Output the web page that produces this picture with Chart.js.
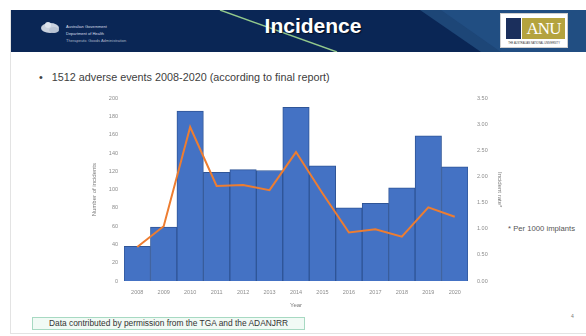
<!DOCTYPE html>
<html>
<head>
<meta charset="utf-8">
<script src="https://cdn.jsdelivr.net/npm/chart.js@4/dist/chart.umd.min.js"></script>
<style>
  html, body { margin: 0; padding: 0; background: #ffffff; }
  body { width: 586px; height: 336px; position: relative; overflow: hidden;
         font-family: "Liberation Sans", Arial, sans-serif; }
  .frame { position: absolute; left: 10px; top: 10px; width: 580px; height: 323px;
           border-left: 1px solid #e3e3e3; border-bottom: 1px solid #e3e3e3; }
  .header { position: absolute; left: 11px; top: 10px; width: 575px; height: 42px; }
  .title { position: absolute; left: 180px; top: 13px; width: 266px; text-align: center;
           color: #ffffff; font-weight: bold; font-size: 21px; line-height: 26px;
           text-shadow: 1px 1px 1px rgba(0,0,0,0.6); }
  .gov { position: absolute; left: 66px; color: #d9dfe9; font-size: 4px; line-height: 5px; white-space: nowrap; }
  .anu { position: absolute; left: 500px; top: 13px; width: 68px; height: 35px; background: #ffffff;
         box-sizing: border-box; border: 1px solid #cfcfcf; }
  .anu .gold { position: absolute; left: 21px; top: 4px; width: 43px; height: 21px; background: #b4a33e;
               color: #ffffff; font-family: "Liberation Serif", serif; font-size: 17px; line-height: 22px;
               text-align: center; letter-spacing: -1px; }
  .anu .crest { position: absolute; left: 5px; top: 4px; width: 15px; height: 21px; background: #1b2f5c; }
  .anu .tag { position: absolute; left: 3px; top: 28px; width: 60px; text-align: center; font-size: 2.6px;
              color: #333; white-space: nowrap; }
  .bullet { position: absolute; left: 39px; top: 71px; font-size: 10.8px; color: #404040; white-space: nowrap; }
  .note { position: absolute; left: 508px; top: 224px; font-size: 7.7px; color: #555; white-space: nowrap; }
  .source { position: absolute; left: 32px; top: 317px; width: 273px; height: 13px; box-sizing: border-box;
            border: 1px solid #a7d9c2; background: #f1faf5; font-size: 8.4px; line-height: 11px;
            text-align: center; color: #333; white-space: nowrap; }
  .page { position: absolute; left: 571px; top: 313px; font-size: 5px; color: #777; }
  .plot { position: absolute; left: 84px; top: 86px; width: 422px; height: 234px; }
</style>
</head>
<body>
<div class="frame"></div>

<svg class="header" width="575" height="42" viewBox="0 0 575 42">
  <rect x="0" y="0" width="575" height="42" fill="#0a2655"/>
  <polygon points="409,0 575,0 575,42 470,42" fill="#1d4677"/>
  <polygon points="430,0 575,0 575,42 490,42" fill="#24538a" opacity="0.6"/>
  <line x1="209" y1="0" x2="326" y2="42" stroke="#93c98c" stroke-width="1.4"/>
  <!-- crest -->
  <ellipse cx="39" cy="18" rx="9" ry="5" fill="#c9d1de"/>
  <ellipse cx="37" cy="15" rx="3" ry="3" fill="#dfe5ee"/>
  <ellipse cx="43" cy="20" rx="5" ry="3" fill="#b9c3d3"/>
</svg>
<div class="gov" style="top:24px;">Australian Government</div>
<div class="gov" style="top:31px;">Department of Health</div>
<div class="gov" style="top:38px;color:#aab5c8;">Therapeutic Goods Administration</div>
<div class="title">Incidence</div>
<div class="anu">
  <div class="crest"></div>
  <div class="gold">ANU</div>
  <div class="tag">THE AUSTRALIAN NATIONAL UNIVERSITY</div>
</div>

<div class="bullet">•&nbsp;&nbsp;&nbsp;1512 adverse events 2008-2020 (according to final report)</div>

<div class="plot"><canvas id="chart" width="422" height="234"></canvas></div>

<div class="note">* Per 1000 implants</div>
<div class="source">Data contributed by permission from the TGA and the ADANJRR</div>
<div class="page">4</div>

<script>
// Years of reporting
const years = ['2008', '2009', '2010', '2011', '2012', '2013', '2014',
               '2015', '2016', '2017', '2018', '2019', '2020'];
// Adverse events reported per year (left axis)
const incidents = [38, 59, 186, 119, 122, 121, 190, 126, 80, 85, 102, 159, 125];
// Incident rate per 1000 implants (right axis)
const incidentRate = [0.65, 1.05, 2.95, 1.82, 1.84, 1.74, 2.47, 1.68, 0.93, 0.99, 0.85, 1.41, 1.23];
// Axis titles
const countAxisTitle = 'Number of incidents';
const rateAxisTitle = 'Incident rate*';
const yearAxisTitle = 'Year';

const tickFont = { family: 'Liberation Sans', size: 5.5 };
const titleFont = { family: 'Liberation Sans', size: 6 };
const tickColor = '#8c8c8c';

new Chart(document.getElementById('chart'), {
  data: {
    labels: years,
    datasets: [
      {
        type: 'line',
        data: incidentRate,
        yAxisID: 'y1',
        borderColor: '#ed7d31',
        borderWidth: 2,
        pointRadius: 0,
        tension: 0,
        order: 0
      },
      {
        type: 'bar',
        data: incidents,
        yAxisID: 'y',
        backgroundColor: '#4472c4',
        borderColor: '#2f5597',
        borderWidth: 1,
        barPercentage: 1,
        categoryPercentage: 1,
        order: 1
      }
    ]
  },
  options: {
    responsive: false,
    animation: false,
    devicePixelRatio: 1,
    // top padding places the plot top edge at y = 95 on the page
    layout: { padding: { top: 9, left: 0, right: 0, bottom: 0 } },
    plugins: { legend: { display: false }, tooltip: { enabled: false } },
    scales: {
      x: {
        grid: { display: false, drawTicks: false },
        border: { display: false },
        ticks: { font: tickFont, color: tickColor, padding: 8, maxRotation: 0, autoSkip: false },
        title: { display: true, text: yearAxisTitle, font: titleFont, color: '#7a7a7a',
                 padding: { top: 0, bottom: 11 } },
        afterFit(scale) { scale.height = 39; }
      },
      y: {
        position: 'left',
        min: 0, max: 200,
        grid: { display: false, drawTicks: false },
        border: { display: false },
        ticks: { stepSize: 20, font: tickFont, color: tickColor, padding: 6 },
        title: { display: true, text: countAxisTitle, font: titleFont, color: '#7a7a7a',
                 padding: { top: 7, bottom: 0 } },
        afterFit(scale) { scale.width = 40; }
      },
      y1: {
        position: 'right',
        min: 0, max: 3.5,
        grid: { display: false, drawTicks: false },
        border: { display: false },
        ticks: { stepSize: 0.5, font: tickFont, color: tickColor, padding: 9,
                 callback: (v) => Number(v).toFixed(2) },
        title: { display: true, text: rateAxisTitle, font: titleFont, color: '#7a7a7a',
                 padding: { top: 3, bottom: 0 } },
        afterFit(scale) { scale.width = 38; }
      }
    }
  }
});
</script>
</body>
</html>
